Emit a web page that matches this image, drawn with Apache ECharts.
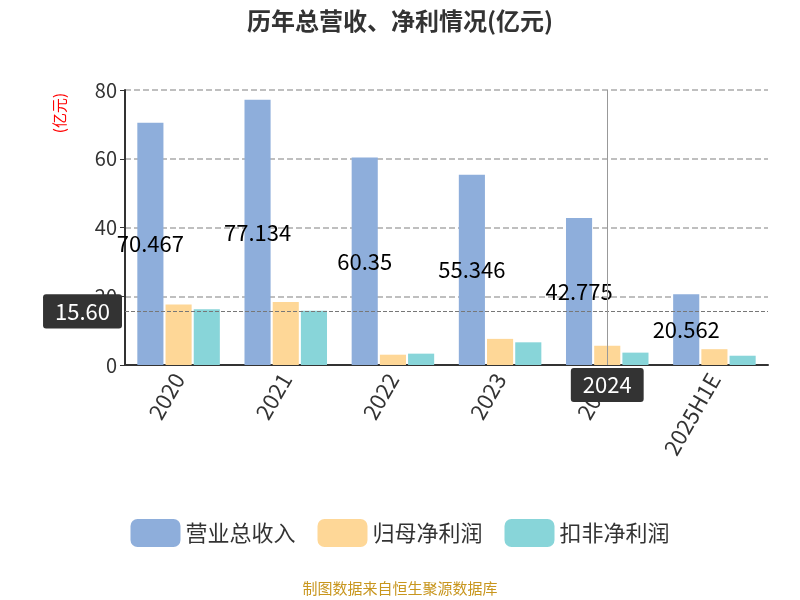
<!DOCTYPE html><html><head><meta charset="utf-8"><script src="https://cdn.jsdelivr.net/npm/echarts@6/dist/echarts.min.js"></script></head><body style="margin:0"><div id="c" style="width:800px;height:600px"></div><script>
const categories=['2020','2021','2022','2023','2024','2025H1E'];
const revenue=[70.467,77.134,60.35,55.346,42.775,20.562];
const netProfit=[17.6,18.3,3.0,7.6,5.6,4.6];
const deductedProfit=[16.2,15.8,3.3,6.6,3.6,2.7];
const yTicks=[0,20,40,60,80];
const ch=echarts.init(document.getElementById('c'));
const f="'Noto Sans CJK SC','Noto Sans',sans-serif";
ch.setOption({
 textStyle:{fontFamily:f},
 title:{text:'历年总营收、净利情况(亿元)',left:'center',top:4,textStyle:{fontSize:24,fontWeight:'bold',color:'#333'}},
 tooltip:{show:false},
 legend:{bottom:48,itemWidth:50,itemHeight:28,itemGap:22,textStyle:{fontSize:22,color:'#333'},data:['营业总收入','归母净利润','扣非净利润']},
 grid:{left:125,right:32,top:90,bottom:235},
 xAxis:{type:'category',data:categories,axisLine:{lineStyle:{color:'#333',width:2}},axisTick:{lineStyle:{color:'#333'}},
  axisLabel:{rotate:60,fontSize:22,color:'#333',margin:10},
  axisPointer:{show:true,value:'2024',status:'show',type:'line',lineStyle:{color:'#999',type:'solid'},label:{show:true,fontSize:22,backgroundColor:'#333',color:'#fff',padding:[6,12]}}},
 yAxis:{type:'value',min:yTicks[0],max:yTicks[yTicks.length-1],interval:20,
  axisLine:{show:true,lineStyle:{color:'#333',width:2}},axisTick:{show:true},
  axisLabel:{fontSize:20,color:'#333'},splitLine:{lineStyle:{type:'dashed',color:'#aaa',width:1.5}},
  axisPointer:{show:true,value:15.6,status:'show',type:'line',lineStyle:{color:'#777',type:'dashed'},label:{show:true,fontSize:22,backgroundColor:'#333',color:'#fff',padding:[6,12],formatter:p=>p.value.toFixed(2)}}},
 graphic:[{type:'text',left:52,top:93,rotation:Math.PI/2,style:{text:'(亿元)',fill:'red',fontSize:15,fontFamily:f}},
  {type:'text',left:'center',bottom:4,style:{text:'制图数据来自恒生聚源数据库',fill:'#c8961e',fontSize:15,fontFamily:f}}],
 series:[
  {name:'营业总收入',type:'bar',data:revenue,barGap:'8%',itemStyle:{color:'#8eaedb'},label:{show:true,position:'inside',fontSize:22,color:'#000'}},
  {name:'归母净利润',type:'bar',data:netProfit,itemStyle:{color:'#fed797'}},
  {name:'扣非净利润',type:'bar',data:deductedProfit,itemStyle:{color:'#88d5d9'}}
 ]
});
</script></body></html>
